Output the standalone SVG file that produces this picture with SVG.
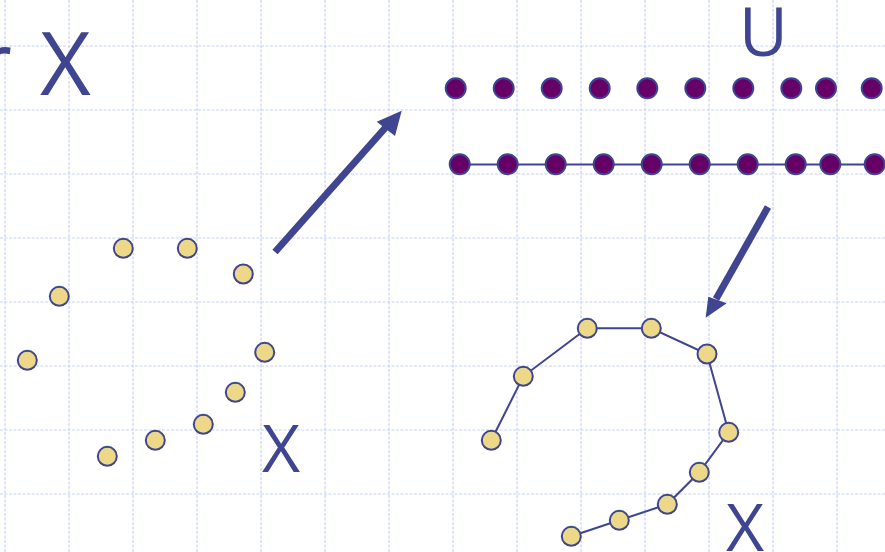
<svg xmlns="http://www.w3.org/2000/svg" width="885" height="552" viewBox="0 0 885 552">
<style>
.grid line{stroke:#c9d3f6;stroke-width:1.2;stroke-dasharray:3 1.5}
.lbl{font-family:"Open Sans","Noto Sans",sans-serif;fill:#3f4590}
.pt{fill:#ecd888;stroke:#3f4590;stroke-width:2}
.pd{fill:#660066;stroke:#3f4590;stroke-width:2}
.edge{fill:none;stroke:#3f4590;stroke-width:2}
.arrow{fill:none;stroke:#3f4590;stroke-width:7}
.head{fill:#3f4590}
</style>
<rect width="885" height="552" fill="#ffffff"/>
<g class="grid">
<line x1="0" y1="46" x2="885" y2="46"/><line x1="0" y1="110" x2="885" y2="110"/><line x1="0" y1="174" x2="885" y2="174"/><line x1="0" y1="238" x2="885" y2="238"/><line x1="0" y1="302" x2="885" y2="302"/><line x1="0" y1="366" x2="885" y2="366"/><line x1="0" y1="430" x2="885" y2="430"/><line x1="0" y1="494" x2="885" y2="494"/>
<line x1="5" y1="0" x2="5" y2="552"/><line x1="69" y1="0" x2="69" y2="552"/><line x1="133" y1="0" x2="133" y2="552"/><line x1="197" y1="0" x2="197" y2="552"/><line x1="261" y1="0" x2="261" y2="552"/><line x1="325" y1="0" x2="325" y2="552"/><line x1="389" y1="0" x2="389" y2="552"/><line x1="453" y1="0" x2="453" y2="552"/><line x1="517" y1="0" x2="517" y2="552"/><line x1="581" y1="0" x2="581" y2="552"/><line x1="645" y1="0" x2="645" y2="552"/><line x1="709" y1="0" x2="709" y2="552"/><line x1="773" y1="0" x2="773" y2="552"/><line x1="837" y1="0" x2="837" y2="552"/>
</g>
<g id="labels">
<text class="lbl" x="-24" y="95" font-size="88">r</text>
<text class="lbl" x="40" y="95" font-size="88">X</text>
<text class="lbl" x="739" y="56" font-size="67">U</text>
<text class="lbl" x="262" y="472" font-size="66">X</text>
<text class="lbl" x="726" y="551" font-size="66">X</text>
</g>
<g id="connectors">
<line class="arrow" x1="275" y1="252" x2="386" y2="127"/>
<polygon class="head" points="401.7,110.7 376.7,121.7 395,136"/>
<line class="arrow" x1="768" y1="207" x2="716" y2="299"/>
<polygon class="head" points="705.7,317.7 708.3,296.7 726.7,303.3"/>
<line class="edge" x1="459.7" y1="164.5" x2="885" y2="164.5"/>
<polyline class="edge" points="491.3,440.3 523.3,376.3 587.3,328.3 651.3,328.3 707,354 728.7,432.3 699.3,472.3 667.3,504.3 619.3,520.3 571.3,536.3"/>
</g>
<g id="scatter">
<circle class="pt" cx="123.3" cy="248.3" r="9.5"/>
<circle class="pt" cx="187.3" cy="248.3" r="9.5"/>
<circle class="pt" cx="243.3" cy="274" r="9.5"/>
<circle class="pt" cx="59.3" cy="296.3" r="9.5"/>
<circle class="pt" cx="27.3" cy="360.3" r="9.5"/>
<circle class="pt" cx="264.7" cy="352.3" r="9.5"/>
<circle class="pt" cx="235.3" cy="392.3" r="9.5"/>
<circle class="pt" cx="203.3" cy="424.3" r="9.5"/>
<circle class="pt" cx="155.3" cy="440.3" r="9.5"/>
<circle class="pt" cx="107.3" cy="456.3" r="9.5"/>
</g>
<g id="row1">
<circle class="pd" cx="455.7" cy="88.3" r="10"/>
<circle class="pd" cx="503.7" cy="88.3" r="10"/>
<circle class="pd" cx="551.7" cy="88.3" r="10"/>
<circle class="pd" cx="599.7" cy="88.3" r="10"/>
<circle class="pd" cx="647.3" cy="88.3" r="10"/>
<circle class="pd" cx="695.3" cy="88.3" r="10"/>
<circle class="pd" cx="743.3" cy="88.3" r="10"/>
<circle class="pd" cx="791.3" cy="88.3" r="10"/>
<circle class="pd" cx="826" cy="88.3" r="10"/>
<circle class="pd" cx="871.7" cy="88.3" r="10"/>
</g>
<g id="row2">
<circle class="pd" cx="459.7" cy="164.3" r="10"/>
<circle class="pd" cx="507.7" cy="164.3" r="10"/>
<circle class="pd" cx="555.7" cy="164.3" r="10"/>
<circle class="pd" cx="603.7" cy="164.3" r="10"/>
<circle class="pd" cx="651.7" cy="164.3" r="10"/>
<circle class="pd" cx="699.7" cy="164.3" r="10"/>
<circle class="pd" cx="747.7" cy="164.3" r="10"/>
<circle class="pd" cx="795.7" cy="164.3" r="10"/>
<circle class="pd" cx="830.3" cy="164.3" r="10"/>
<circle class="pd" cx="874.7" cy="164.3" r="10"/>
</g>
<g id="curve">
<circle class="pt" cx="491.3" cy="440.3" r="9.5"/>
<circle class="pt" cx="523.3" cy="376.3" r="9.5"/>
<circle class="pt" cx="587.3" cy="328.3" r="9.5"/>
<circle class="pt" cx="651.3" cy="328.3" r="9.5"/>
<circle class="pt" cx="707" cy="354" r="9.5"/>
<circle class="pt" cx="728.7" cy="432.3" r="9.5"/>
<circle class="pt" cx="699.3" cy="472.3" r="9.5"/>
<circle class="pt" cx="667.3" cy="504.3" r="9.5"/>
<circle class="pt" cx="619.3" cy="520.3" r="9.5"/>
<circle class="pt" cx="571.3" cy="536.3" r="9.5"/>
</g>
</svg>
